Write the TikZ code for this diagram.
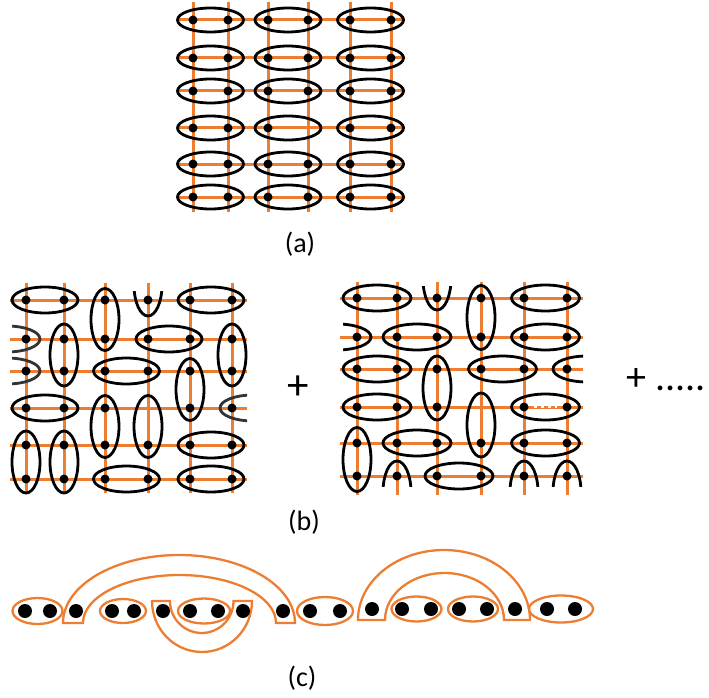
\documentclass[tikz,border=0pt]{standalone}
\usepackage{fontspec}
\setmainfont{Carlito}
\usetikzlibrary{calc}
\definecolor{bondorange}{HTML}{ED7D31}

\begin{document}
\begin{tikzpicture}[x=1pt, y=-1pt,
	lattice/.style={draw=bondorange, line width=3pt},
	dimer/.style={draw=black, line width=2.8pt},
	edge dimer/.style={draw=black!80, line width=2.8pt},
	site/.style={fill=black},
	singlet/.style={draw=bondorange, line width=2.3pt},
	caption/.style={font=\fontsize{28}{32}\selectfont, inner sep=0pt},
	sum/.style={font=\fontsize{43}{48}\selectfont, inner sep=0pt}]
	\useasboundingbox (0,0) rectangle (709,698);

	% (a): columnar dimers
	\foreach \x [count=\i] in {193,228,268,308,350,391}
		\foreach \y [count=\j] in {20,58,91,128,164,197}
			\coordinate (A-\i-\j) at (\x,\y);
	\foreach \k in {1,...,6} {
		\draw[lattice] ([xshift=-16pt]A-1-\k) -- ([xshift=14pt]A-6-\k);
		\draw[lattice] ([yshift=18pt]A-\k-1) -- ([yshift=-15pt]A-\k-6);
	}
	\foreach \i [evaluate=\i as \n using int(\i+1)] in {1,3,5}
		\foreach \j in {1,...,6}
			\draw[dimer] ($(A-\i-\j)!.5!(A-\n-\j)$) ellipse (33pt and 12pt);
	\foreach \i in {1,...,6}
		\foreach \j in {1,...,6}
			{\ifnum\i\j=44 \else\fill[site] (A-\i-\j) circle (4.5pt);\fi}
	\node[caption] (capa) at (300,244) {(a)};

	% (b) left: one resonating configuration
	\foreach \x [count=\i] in {26,64,105,148,190,232}
		\foreach \y [count=\j] in {300,339,371,408,445,479}
			\coordinate (L-\i-\j) at (\x,\y);
	\foreach \k in {1,...,6} {
		\draw[lattice] ([xshift=-16pt]L-1-\k) -- ([xshift=15pt]L-6-\k);
		\draw[lattice] ([yshift=17pt]L-\k-1) -- ([yshift=-14pt]L-\k-6);
	}
	\foreach \i/\j [evaluate=\i as \n using int(\i+1)] in {1/1,5/1,4/2,3/3,1/4,5/5,3/6,5/6}
		\draw[dimer] ($(L-\i-\j)!.5!(L-\n-\j)$) ellipse (33pt and 13pt);
	\foreach \i/\j [evaluate=\j as \n using int(\j+1)] in {3/1,2/2,6/2,5/3,3/4,4/4,1/5,2/5}
		\draw[dimer] ($(L-\i-\j)!.5!(L-\i-\n)$) ellipse (14pt and 31pt);
	\begin{scope}
		\clip (12,291) rectangle (247,490);
		\draw[edge dimer] ([xshift=-19pt]L-1-2) ellipse (33pt and 13pt);
		\draw[edge dimer] ([xshift=-19pt]L-1-3) ellipse (33pt and 13pt);
		\draw[edge dimer] ([xshift=21pt]L-6-4) ellipse (33pt and 13pt);
		\draw[dimer] ([yshift=15pt]L-4-1) ellipse (14pt and 31pt);
	\end{scope}
	\foreach \i in {1,...,6}
		\foreach \j in {1,...,6}
			{\ifnum\i\j=44 \else\fill[site] (L-\i-\j) circle (4.5pt);\fi}

	\node[sum] (plus) at (298,388) {+};

	% (b) right: another configuration
	\foreach \x [count=\i] in {357,397,437,481,524,567}
		\foreach \y [count=\j] in {298,337,369,407,443,476}
			\coordinate (R-\i-\j) at (\x,\y);
	\foreach \k in {1,...,6} {
		\draw[lattice] ([xshift=-17pt]R-1-\k) -- ([xshift=16pt]R-6-\k);
		\draw[lattice] ([yshift=16pt]R-\k-1) -- ([yshift=-19pt]R-\k-6);
	}
	\draw[white, line width=1.4pt, dash pattern=on 3pt off 4pt] ([xshift=10pt]R-5-4) -- ([xshift=-10pt]R-6-4);
	\foreach \i/\j [evaluate=\i as \n using int(\i+1)] in {1/1,5/1,2/2,5/2,1/3,4/3,1/4,5/4,2/5,5/5,3/6}
		\draw[dimer] ($(R-\i-\j)!.5!(R-\n-\j)$) ellipse (34pt and 13pt);
	\foreach \i/\j [evaluate=\j as \n using int(\j+1)] in {4/1,3/3,4/4,1/5}
		\draw[dimer] ($(R-\i-\j)!.5!(R-\i-\n)$) ellipse (14pt and 32pt);
	\begin{scope}
		\clip (343,286) rectangle (583,486);
		\draw[dimer] ([xshift=-20pt]R-1-2) ellipse (34pt and 13pt);
		\draw[dimer] ([xshift=20pt]R-6-3) ellipse (34pt and 13pt);
		\draw[dimer] ([yshift=19pt]R-3-1) ellipse (14pt and 31pt);
		\foreach \i in {2,5,6}
			\draw[dimer] ([yshift=-16pt]R-\i-6) ellipse (14pt and 31pt);
	\end{scope}
	\foreach \i in {1,...,6}
		\foreach \j in {1,...,6}
			{\ifnum\i\j=44 \else\fill[site] (R-\i-\j) circle (4.5pt);\fi}

	\node[sum, font=\fontsize{40}{44}\selectfont, anchor=east] (more) at (706,380) {+ .....};
	\node[caption] (capb) at (304,522) {(b)};

	% (c): singlets on a chain
	\foreach \x [count=\k] in {25,50,76,112,134,163,190,218,243,283,310,340}
		\coordinate (C-\k) at (\x,611);
	\foreach \x [count=\k from 13] in {372,402,431,459,487,515,547,575}
		\coordinate (C-\k) at (\x,609);
	\foreach \a/\b/\rx/\ry in {1/2/25pt/13pt, 4/5/23pt/12pt, 7/8/26pt/12.5pt, 11/12/28pt/14pt,
			14/15/25pt/12.5pt, 16/17/25pt/12.5pt, 19/20/32pt/13.5pt}
		\draw[singlet] ($(C-\a)!.5!(C-\b)$) ellipse [x radius=\rx, y radius=\ry];
	\draw[singlet] (63,623) arc[start angle=180, end angle=0, x radius=116pt, y radius=68pt]
		-- (276,623) arc[start angle=0, end angle=180, x radius=96.5pt, y radius=48pt] -- cycle;
	\draw[singlet] (152,601) arc[start angle=180, end angle=360, x radius=50pt, y radius=51pt]
		-- (233.5,601) arc[start angle=0, end angle=-180, x radius=31.75pt, y radius=32pt] -- cycle;
	\draw[singlet] (358,620) arc[start angle=180, end angle=0, x radius=86pt, y radius=70pt]
		-- (504,620) arc[start angle=0, end angle=180, x radius=59.5pt, y radius=47pt] -- cycle;
	\foreach \k in {1,...,20}
		\fill[site] (C-\k) circle (7pt);
	\node[caption] (capc) at (302,678) {(c)};
\end{tikzpicture}
\end{document}
